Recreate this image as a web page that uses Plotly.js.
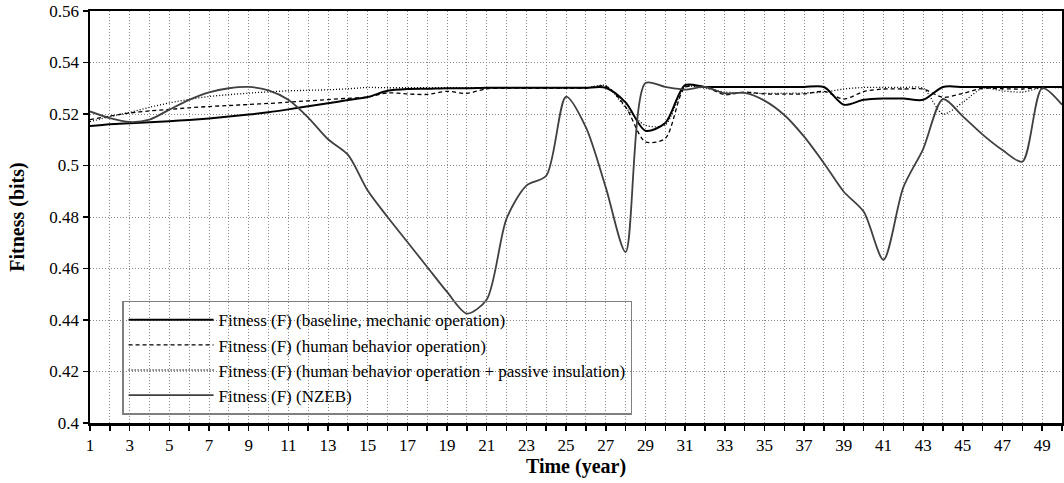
<!DOCTYPE html>
<html>
<head>
<meta charset="utf-8">
<script src="https://cdn.plot.ly/plotly-3.0.1.min.js"></script>
<style>html,body{margin:0;padding:0;background:#fff}#chart{width:1064px;height:483px}</style>
</head>
<body>
<div id="chart"></div>
<script>
const years = Array.from({length: 50}, (_, i) => i + 1);

const seriesNames = [
  "Fitness (F) (baseline, mechanic operation)",
  "Fitness (F) (human behavior operation)",
  "Fitness (F) (human behavior operation + passive insulation)",
  "Fitness (F) (NZEB)"
];

const baseline = [
  0.5153, 0.5160, 0.5164, 0.5168, 0.5172, 0.5177, 0.5183, 0.5190, 0.5198, 0.5207,
  0.5218, 0.5230, 0.5242, 0.5254, 0.5266, 0.5290, 0.5297, 0.5298, 0.5300, 0.5300,
  0.5302, 0.5302, 0.5302, 0.5302, 0.5302, 0.5302, 0.5302, 0.5245, 0.5135, 0.5165,
  0.5312, 0.5305, 0.5305, 0.5305, 0.5305, 0.5305, 0.5305, 0.5305, 0.5236, 0.5255,
  0.5260, 0.5260, 0.5255, 0.5305, 0.5305, 0.5305, 0.5305, 0.5305, 0.5305, 0.5305
];

const humanBehavior = [
  0.5178, 0.5192, 0.5204, 0.5212, 0.5218, 0.5224, 0.5229, 0.5233, 0.5237, 0.5241,
  0.5246, 0.5251, 0.5256, 0.5261, 0.5266, 0.5282, 0.5278, 0.5276, 0.5288, 0.5280,
  0.5298, 0.5300, 0.5300, 0.5300, 0.5300, 0.5300, 0.5308, 0.5228, 0.5092, 0.5105,
  0.5303, 0.5305, 0.5275, 0.5285, 0.5278, 0.5277, 0.5278, 0.5288, 0.5258, 0.5287,
  0.5297, 0.5297, 0.5297, 0.5265, 0.5280, 0.5300, 0.5298, 0.5297, 0.5303, 0.5303
];

const passiveInsulation = [
  0.5170, 0.5190, 0.5206, 0.5226, 0.5243, 0.5257, 0.5268, 0.5275, 0.5281, 0.5286,
  0.5290, 0.5292, 0.5294, 0.5298, 0.5303, 0.5302, 0.5302, 0.5302, 0.5302, 0.5302,
  0.5302, 0.5302, 0.5302, 0.5302, 0.5302, 0.5302, 0.5310, 0.5225, 0.5156, 0.5158,
  0.5305, 0.5300, 0.5285, 0.5282, 0.5280, 0.5280, 0.5282, 0.5285, 0.5297, 0.5303,
  0.5303, 0.5303, 0.5300, 0.5200, 0.5245, 0.5300, 0.5290, 0.5285, 0.5302, 0.5302
];

const nzeb = [
  0.5210, 0.5184, 0.5169, 0.5178, 0.5217, 0.5255, 0.5284, 0.5300, 0.5305, 0.5292,
  0.5255, 0.5186, 0.5102, 0.5042, 0.4903, 0.4800, 0.4703, 0.4606, 0.4509, 0.4425,
  0.4480, 0.4794, 0.4922, 0.4960, 0.5267, 0.5148, 0.4915, 0.4664, 0.5320, 0.5305,
  0.5295, 0.5305, 0.5280, 0.5282, 0.5252, 0.5196, 0.5112, 0.5009, 0.4898, 0.4821,
  0.4634, 0.4915, 0.5064, 0.5258, 0.5191, 0.5120, 0.5060, 0.5015, 0.5300, 0.5236
];

const xTickLabels = years.map(y => (y % 2 === 1 ? String(y) : ""));
const yTickValues = [0.4, 0.42, 0.44, 0.46, 0.48, 0.5, 0.52, 0.54, 0.56];
const yTickLabels = ["0.4", "0.42", "0.44", "0.46", "0.48", "0.5", "0.52", "0.54", "0.56"];

const FONT = "'Liberation Serif', 'Times New Roman', serif";

const traces = [
  {x: years, y: baseline, name: seriesNames[0], mode: "lines",
   line: {color: "#000000", width: 2, shape: "spline", smoothing: 0.8}},
  {x: years, y: humanBehavior, name: seriesNames[1], mode: "lines",
   line: {color: "#000000", width: 1.3, dash: "4px,3px", shape: "spline", smoothing: 0.8}},
  {x: years, y: passiveInsulation, name: seriesNames[2], mode: "lines",
   line: {color: "#000000", width: 1.3, dash: "1px,2px", shape: "spline", smoothing: 0.8}},
  {x: years, y: nzeb, name: seriesNames[3], mode: "lines",
   line: {color: "#404040", width: 1.8, shape: "spline", smoothing: 0.8}}
];

const layout = {
  width: 1064, height: 483,
  margin: {l: 90, r: 2, t: 11, b: 60},
  paper_bgcolor: "#ffffff", plot_bgcolor: "#ffffff",
  font: {family: FONT, size: 17, color: "#000000"},
  showlegend: true,
  legend: {
    x: 0.033, y: 0.02, xanchor: "left", yanchor: "bottom",
    bgcolor: "rgba(255,255,255,0)", bordercolor: "#808080", borderwidth: 1.5,
    font: {family: FONT, size: 17, color: "#000000"},
    itemwidth: 85, tracegroupgap: 0
  },
  shapes: [{
    type: "rect", xref: "paper", yref: "paper", layer: "between",
    x0: 0.034, x1: 0.556, y0: 0.021, y1: 0.292,
    fillcolor: "#ffffff", line: {width: 0}
  }],
  xaxis: {
    range: [1, 50],
    tickmode: "array", tickvals: years, ticktext: xTickLabels,
    ticks: "outside", ticklen: 5, tickwidth: 1.5, tickcolor: "#000000",
    showline: true, linecolor: "#000000", linewidth: 2.5, mirror: true,
    showgrid: true, gridcolor: "#888888", gridwidth: 1, griddash: "1px,2px",
    zeroline: false,
    tickfont: {family: FONT, size: 17, color: "#000000"},
    title: {text: "<b>Time (year)</b>", font: {family: FONT, size: 20, color: "#000000"}, standoff: 0}
  },
  yaxis: {
    range: [0.4, 0.56],
    tickmode: "array", tickvals: yTickValues, ticktext: yTickLabels,
    ticks: "outside", ticklen: 5, tickwidth: 1.5, tickcolor: "#000000",
    showline: true, linecolor: "#000000", linewidth: 2.5, mirror: true,
    showgrid: true, gridcolor: "#888888", gridwidth: 1, griddash: "1px,2px",
    zeroline: false,
    tickfont: {family: FONT, size: 17, color: "#000000"},
    title: {text: "<b>Fitness (bits)</b>", font: {family: FONT, size: 20, color: "#000000"}, standoff: 20}
  }
};

Plotly.newPlot("chart", traces, layout, {staticPlot: true, displayModeBar: false});
</script>
</body>
</html>
